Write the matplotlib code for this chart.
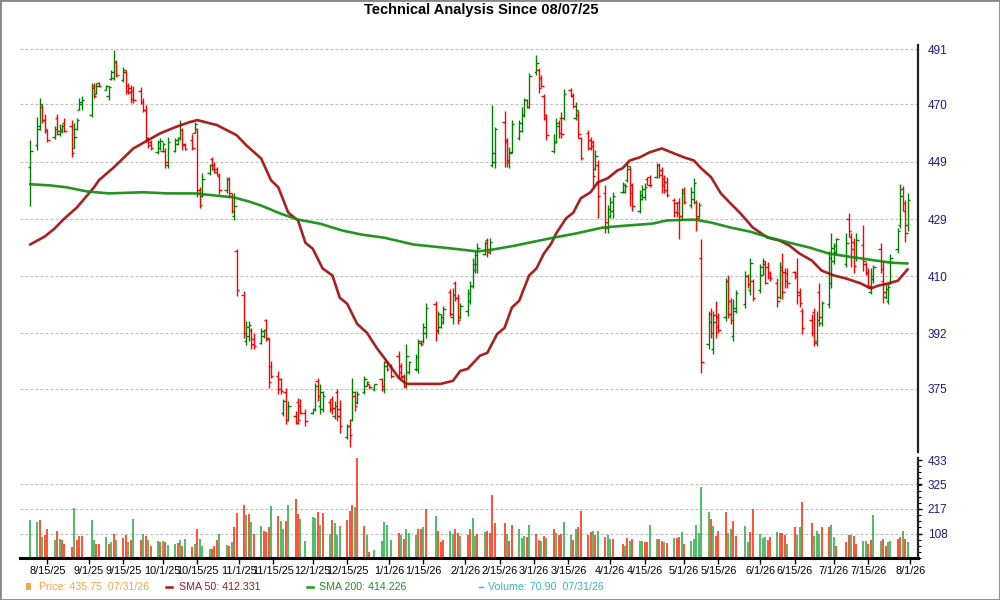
import numpy as np
import pandas as pd
import matplotlib
matplotlib.use("Agg")
import matplotlib.pyplot as plt
import matplotlib.dates as mdates
from matplotlib.ticker import FixedLocator, NullLocator, NullFormatter, MultipleLocator, FuncFormatter
from matplotlib.patches import Rectangle
from matplotlib.lines import Line2D

plt.rcParams['font.family'] = ['Liberation Sans', 'DejaVu Sans']

# trading days 08/08/25 .. 07/31/26
holidays = ['2025-09-01', '2025-11-27', '2025-12-25', '2026-01-01', '2026-01-19',
            '2026-02-16', '2026-04-03', '2026-05-25', '2026-06-19', '2026-07-03']
days = pd.bdate_range('2025-08-08', '2026-07-31', freq='C', holidays=holidays)

opens = [
    447, 455, 462, 469, 464, 460, 458, 465, 459, 460, 463, 462, 454, 461, 468, 470,
    466, 477, 474, 478, 475.5, 473, 479.5, 480, 486, 479, 482, 477, 476, 475, 475, 471, 468, 457.5, 456, 452.5, 454,
    453, 453, 448, 453, 455.5, 457.5, 460.5, 455.5, 457, 459.5, 461, 439, 437, 445, 450, 448, 446.5, 444, 439, 443, 437, 430, 418.5,
    404, 389.5, 391, 393, 390, 389, 391, 396, 390, 382, 379, 378, 368, 374, 366, 367, 371, 370, 368,
    368, 369, 377.5, 370, 369, 371, 372, 367, 374, 369, 361, 364, 366, 373, 371, 374, 376, 376.5, 375, 378, 375, 383,
    382, 385, 382, 379, 376, 380, 381, 381, 389.5, 389.5, 392, 401, 392.5, 394, 395.5, 405, 397, 408, 403, 397,
    399, 402, 407, 412, 414, 417.5, 422, 418, 448, 449, 463.5, 456, 449, 452.5, 457.5, 460, 466, 471.5, 469,
    482, 483, 480, 473, 465, 453, 456, 463, 465, 465, 475.5, 473, 465, 466, 457.5, 459.5, 457, 456, 446.5, 448, 438, 426,
    430, 432, 438.5, 438.5, 442.5, 446.5, 441, 432, 436, 436.5, 443, 443.5, 443.8, 448, 446, 443, 442, 435.5, 434.5, 435, 430,
    439, 434, 436, 435, 430, 416, 388.5, 398, 387, 397.5, 397, 397, 408.5, 402, 391, 399, 401, 410, 405.5, 408.5,
    405.5, 410.5, 414, 413, 411, 408, 403.5, 412, 411.5, 411, 411.5, 411, 405, 399, 396, 398.5, 389, 405, 395, 401, 408,
    415, 418, 414, 429, 423, 421.5, 416, 420.5, 414, 411.5, 405, 409, 419, 408.5, 403.5, 402, 408, 419, 427, 439.5, 432, 427,
]
highs = [
    457, 465.2, 472.2, 470, 466.4, 460.8, 461.9, 466.4, 462.6, 462.6, 465, 464.1, 463, 464.8, 472.2, 473,
    478, 478, 478, 478.4, 477.2, 477, 482.9, 490.6, 486.7, 484, 482.9, 478, 477.2, 477, 476.5, 472.2, 469.6, 458, 456.8, 456.8, 457.6,
    456.1, 453.8, 458, 457.6, 458, 464.1, 461.1, 455.7, 459, 463.3, 461.1, 440, 445, 448.4, 450.6, 448.8, 447, 445, 443.6, 443.6, 438.1, 438.1, 419,
    405.4, 395.8, 395.8, 393.6, 392, 393.6, 393.3, 396.4, 390.5, 383.4, 380.4, 378.3, 372, 375.3, 371.4, 368.5, 372.3, 372, 369,
    369.2, 376.8, 378.3, 376.5, 374.4, 372, 373, 371.4, 375, 371.7, 364.6, 366.1, 378.3, 374.4, 374.4, 379, 377.4, 376.5, 376.5, 378.3, 383.4, 383.4,
    382.5, 386.5, 382.8, 379.5, 388.7, 383.4, 385.6, 390.2, 389.6, 395.2, 401.5, 402.2, 399, 398.1, 400.6, 406, 406.4, 408.6, 404.4, 401.5,
    406, 408.6, 415.9, 418.5, 421.1, 421.8, 422.8, 422.8, 469.6, 461.5, 467.4, 457.6, 454.2, 464.1, 464.1, 469, 472.2, 471.9, 481.7,
    488.7, 483.7, 481, 473.7, 466.2, 459, 464.8, 464.1, 467, 475.7, 476.1, 474.3, 470.7, 467.8, 458, 460.4, 458, 456.8, 453.1, 449.5, 440.7, 434,
    436.5, 438.3, 441.8, 441.5, 448.5, 447.4, 441.5, 439, 440.7, 441.5, 443.6, 444.3, 448.5, 448.5, 447, 444.3, 443.6, 436.2, 434.8, 436.2, 439.7,
    440, 440, 443.2, 435.5, 434.8, 422.5, 399, 400, 399, 402.2, 398.4, 409.6, 410.3, 403.1, 402.8, 405.7, 411.9, 410.9, 415.9, 409.3,
    414.2, 415.9, 415.2, 414.6, 411.9, 409.6, 414.6, 417.8, 412.9, 412.6, 411.9, 415.9, 406.4, 400, 398.1, 400, 399, 408, 402.2, 418.5, 424.5,
    421.1, 422.8, 424.5, 431, 424.2, 422.8, 424.2, 427.2, 414.6, 412.6, 412.6, 413.6, 421.1, 415.2, 407.7, 407.7, 417.5, 426.2, 441.1, 440.4, 435.5, 438,
]
lows = [
    433.5, 453.1, 460.4, 463, 459.3, 456.1, 457.2, 458.7, 458.4, 459.3, 459.6, 450.6, 453.8, 460.4, 467.8, 468,
    465.2, 472.2, 473.7, 476.5, 475.3, 471.5, 479.1, 479.1, 480.2, 478.4, 473.7, 473.7, 470.4, 470.4, 470, 467.1, 456.1, 453.8, 453.1, 451.9, 453.1,
    452.4, 446.7, 446.7, 452.4, 455, 456.8, 453.1, 453.1, 453.1, 459.3, 436.5, 433, 436.5, 444.3, 446, 445, 444.3, 437.6, 438.1, 436.5, 431, 428.6, 403.8,
    390.5, 388.4, 389.6, 387.1, 387, 388.7, 390.5, 389.6, 375.3, 378.3, 373.5, 373.5, 367, 364.6, 365.5, 364.6, 364.6, 367.7, 364,
    367.7, 368.5, 371.4, 367.7, 368.2, 368.2, 367.7, 366.1, 365.5, 362, 360.3, 358, 365.5, 368.5, 370.5, 373.5, 375.9, 375, 374.4, 374.4, 373.8, 380.4,
    378.3, 378.3, 378, 375.3, 375.3, 379.5, 380.4, 379.8, 388.1, 389, 390.5, 389.6, 391.7, 393.6, 394.9, 397.4, 394.9, 402.2, 394.9, 396.4,
    397.4, 401.2, 406.4, 411.2, 411.2, 416.9, 416.2, 417.5, 447, 446.7, 447, 447, 446.7, 452, 456.8, 459.7, 465.2, 468.5, 468.5,
    481, 474.1, 476.5, 464.1, 456.8, 452, 455.7, 457.6, 457.6, 464.1, 472.6, 468.7, 464.1, 457.6, 449.5, 453.1, 453.1, 440, 446, 429.3, 424.2, 424.2,
    429.3, 429.3, 437.9, 437.9, 441.8, 433.4, 432, 431.3, 435.5, 435.5, 440.7, 440, 443.2, 443.2, 437.9, 437.9, 436.5, 429.9, 429.9, 422.5, 428.6,
    434.4, 433, 434.4, 425.2, 429.3, 379.8, 387.1, 390.5, 385.6, 390.5, 392.1, 395.8, 396.8, 394.9, 389.6, 398.4, 400, 406.4, 404.1, 402.2,
    404.8, 410.3, 407.4, 409.3, 408.6, 400.3, 402.8, 402.8, 406.4, 406.4, 409.3, 401.2, 400.3, 391.7, 391.1, 388.1, 388.1, 394.2, 394.2, 400, 406.4,
    414.2, 417.5, 413.2, 423.1, 413.2, 411.2, 415.2, 411.9, 410.6, 406.4, 404.4, 408, 411.2, 401.6, 402.8, 401.2, 407.7, 417.8, 426.2, 432, 421.5, 425.2,
]
closes = [
    453, 461, 470, 464, 461, 457, 461, 460, 461, 462, 460, 452, 458, 464, 471, 471.5,
    476, 473, 477, 477, 477, 476.5, 482, 486, 481, 483, 475, 474.5, 472, 471.5, 471, 468, 457, 455, 454, 456, 456.5,
    455.5, 449, 456, 457, 457.5, 462.5, 455, 453.5, 454, 462.5, 438, 434, 443, 448, 446.5, 445.5, 444.5, 439, 443, 438, 432, 433.5, 405.7,
    392, 394, 394.5, 388.5, 388, 392.5, 393, 390.5, 377, 379, 375, 374.5, 371.5, 366, 370, 365, 366, 368, 365.5,
    369, 376, 373, 374, 373, 369, 369.5, 370, 367, 364, 364, 361.5, 374, 370, 373.5, 378, 377, 375.5, 376.5, 376, 382, 381,
    379, 380, 378.5, 376, 385, 383, 384.5, 389, 388.5, 394, 400, 393, 398, 397, 399.5, 398, 404, 403, 396, 400.5,
    404.5, 407, 414, 417, 419.5, 421, 418, 421.5, 452, 461, 456.8, 449.5, 452, 462.5, 463, 466, 471.5, 469, 480.5,
    485.5, 476, 477, 466, 458.5, 456, 462, 459.5, 459, 474, 473.5, 469.5, 468, 459, 450.5, 454, 454.5, 444, 451, 437, 428, 432.5,
    435, 437, 441, 440.5, 447.5, 438, 433.5, 437.5, 439.5, 440, 441, 441, 448, 444.3, 441, 439, 437.5, 431.5, 431, 430, 438,
    435, 438.5, 441.5, 429.5, 434, 383, 395.5, 392, 395.5, 394, 393, 408.5, 398, 396, 400, 404.5, 410, 407.5, 414.5, 403,
    413, 415, 408, 410, 409.5, 402, 413, 405, 408.5, 408, 410, 404, 401.5, 393.5, 392, 389.5, 396, 397, 401.5, 416, 419.5,
    420, 422.5, 421, 425, 419, 413.5, 422, 415, 411, 407, 410, 413, 412.5, 405, 406, 406.5, 416, 425, 437, 434.5, 424.5, 435.75,
]

volumes = [
    168, 158, 168, 95, 100, 130, 78, 118, 85, 81, 63, 50, 220, 78, 99, 99,
    168, 81, 63, 63, 95, 63, 72, 108, 81, 90, 103, 72, 81, 171, 81, 108, 99, 81, 54, 76, 72,
    76, 72, 58, 63, 67, 81, 54, 85, 50, 63, 130, 85, 54, 40, 40, 54, 81, 108, 58, 54, 72, 135, 198,
    234, 189, 193, 158, 108, 140, 121, 117, 135, 230, 184, 162, 126, 162, 234, 261, 193, 171, 76,
    180, 175, 202, 144, 198, 108, 166, 153, 103, 140, 166, 207, 234, 225, 441, 140, 103, 27, 36, 76, 158, 144,
    81, 112, 103, 85, 126, 112, 103, 130, 126, 135, 216, 184, 121, 72, 81, 121, 108, 126, 112, 99,
    103, 126, 175, 99, 108, 117, 121, 112, 279, 153, 153, 108, 76, 148, 130, 90, 99, 95, 148,
    108, 81, 76, 99, 90, 130, 112, 103, 108, 158, 103, 81, 126, 135, 207, 103, 117, 121, 103, 121, 95, 103,
    85, 85, 63, 54, 90, 76, 85, 76, 76, 72, 72, 144, 85, 85, 76, 72, 67, 90, 90, 95, 117,
    63, 76, 85, 148, 112, 315, 202, 171, 140, 99, 121, 202, 112, 130, 162, 99, 140, 72, 117, 216,
    108, 90, 95, 81, 95, 117, 112, 112, 103, 63, 135, 103, 135, 247, 153, 99, 121, 108, 135, 135, 148,
    95, 54, 72, 103, 103, 99, 63, 76, 76, 63, 81, 189, 76, 85, 54, 72, 76, 85, 95, 121, 85, 70.9,
]
# g = up volume, r = down volume
vol_dir = ("ggrgrrgrgrrrgrrr" "ggrrgrgrgrrgrgrgrgrgr" "grggrgrgrgrgggrrrggrgrr"
           "rgrgrgrrrgrggrgrrgg" "ggrgrgrgggrrrgrrgrgggg" "grgrgggrrgrgrrrggrrg"
           "rrggrgrrrrrgrrgggrg" "rrgrgrgrrggrgrrrrgrgrg" "grrgrgrggrrggrrgrgrrg"
           "rggggggrgrrrggrrggrr" "gggrrgrrrgrggrrgggrrg" "grrrgrrggrrggrrggrrgrg")

sma50_dates = ['2025-08-08', '2025-08-14', '2025-08-18', '2025-08-22', '2025-08-27', '2025-09-03',
               '2025-09-05', '2025-09-11', '2025-09-19', '2025-09-25', '2025-09-30', '2025-10-06',
               '2025-10-12', '2025-10-15', '2025-10-23', '2025-10-31', '2025-11-04', '2025-11-10',
               '2025-11-14', '2025-11-17', '2025-11-21', '2025-11-25', '2025-11-28', '2025-12-01',
               '2025-12-05', '2025-12-09', '2025-12-12', '2025-12-15', '2025-12-19', '2025-12-23',
               '2025-12-27', '2025-12-31', '2026-01-05', '2026-01-08', '2026-01-15', '2026-01-22',
               '2026-01-27', '2026-01-30', '2026-02-02', '2026-02-07', '2026-02-10', '2026-02-14',
               '2026-02-17', '2026-02-20', '2026-02-23', '2026-02-27', '2026-03-02', '2026-03-05',
               '2026-03-08', '2026-03-10', '2026-03-14', '2026-03-17', '2026-03-20', '2026-03-24',
               '2026-03-27', '2026-03-31', '2026-04-04', '2026-04-06', '2026-04-09', '2026-04-13',
               '2026-04-17', '2026-04-22', '2026-04-27', '2026-05-01', '2026-05-05', '2026-05-08',
               '2026-05-12', '2026-05-16', '2026-05-20', '2026-05-24', '2026-05-29', '2026-06-04',
               '2026-06-09', '2026-06-13', '2026-06-17', '2026-06-22', '2026-06-26', '2026-07-01',
               '2026-07-06', '2026-07-12', '2026-07-16', '2026-07-19', '2026-07-23', '2026-07-27',
               '2026-07-31']
sma50_vals = [420.5, 423.2, 425.9, 429.3, 433.0, 440.0, 442.5, 447.0, 453.8, 456.8, 459.3, 461.5,
              463.4, 464.1, 462.3, 458.6, 454.9, 450.2, 442.5, 440.0, 431.3, 428.6, 421.1, 419.1,
              412.6, 410.3, 403.1, 401.2, 394.9, 392.1, 387.4, 383.4, 378.3, 376.5, 376.5, 376.5,
              377.4, 380.4, 381.0, 385.0, 385.9, 391.7, 393.6, 400.0, 402.2, 410.3, 412.6, 417.5,
              420.8, 424.2, 429.3, 431.3, 436.2, 438.3, 441.8, 443.2, 446.0, 446.7, 449.5, 450.6,
              452.4, 453.8, 452.0, 450.6, 449.5, 446.7, 443.6, 437.9, 434.4, 431.0, 426.2, 422.8,
              421.8, 420.1, 417.5, 415.2, 411.9, 410.3, 409.3, 407.7, 406.1, 407.0, 407.7, 408.6,
              412.331]

sma200_dates = ['2025-08-08', '2025-08-16', '2025-08-23', '2025-08-31', '2025-09-09', '2025-09-23',
                '2025-10-03', '2025-10-14', '2025-10-22', '2025-10-30', '2025-11-05', '2025-11-10',
                '2025-11-18', '2025-11-25', '2025-12-04', '2025-12-13', '2025-12-21', '2025-12-30',
                '2026-01-11', '2026-01-23', '2026-02-06', '2026-02-12', '2026-02-21', '2026-03-03',
                '2026-03-09', '2026-03-18', '2026-03-29', '2026-04-08', '2026-04-18', '2026-04-24',
                '2026-05-05', '2026-05-12', '2026-05-20', '2026-05-28', '2026-06-05', '2026-06-13',
                '2026-06-21', '2026-06-29', '2026-07-07', '2026-07-18', '2026-07-24', '2026-07-31']
sma200_vals = [441.1, 440.7, 440.0, 438.6, 437.9, 438.3, 437.9, 437.9, 437.2, 436.5, 435.1, 433.7,
               430.9, 428.9, 427.5, 425.2, 423.8, 422.8, 420.5, 419.5, 418.2, 418.8, 420.1, 421.8,
               422.8, 424.2, 426.2, 426.9, 427.5, 428.6, 428.9, 427.9, 426.2, 424.8, 422.8, 421.1,
               419.5, 417.5, 416.5, 415.2, 414.5, 414.226]

price_ticks = [375, 392, 410, 429, 449, 470, 491]
vol_ticks = [108, 217, 325, 433]

W, H = 1000, 600
NAVY = '#1a1a8c'


def box(l, t, r, b):
    return [l / W, 1 - b / H, (r - l) / W, (b - t) / H]


x = mdates.date2num(days)
o = np.array(opens)
h = np.array(highs)
l = np.array(lows)
c = np.array(closes)
bar_col = np.where(c >= o, '#008000', '#ff0000')

fig = plt.figure(figsize=(10, 6), dpi=100)
ax = fig.add_axes(box(20, 45, 918, 452))
axv = fig.add_axes(box(20, 458, 918, 558))

start = mdates.date2num(pd.Timestamp('2025-08-07'))
x0, x1 = start - 3.1, start + 362.2

# price panel
ax.vlines(x, l, h, colors=bar_col, lw=1.0, zorder=2)
ax.hlines(o, x - 1.0, x, colors=bar_col, lw=1.0, zorder=2)
ax.hlines(c, x, x + 1.0, colors=bar_col, lw=1.0, zorder=2)
ax.plot(mdates.date2num(pd.to_datetime(sma50_dates)), sma50_vals, color='#a00e0e', lw=1.9,
        alpha=0.92, solid_capstyle='round', zorder=3)
ax.plot(mdates.date2num(pd.to_datetime(sma200_dates)), sma200_vals, color='#138a13', lw=1.9,
        alpha=0.92, solid_capstyle='round', zorder=3)

ax.set_yscale('log')
ax.set_ylim(356.7, 492.6)
ax.set_xlim(x0, x1)
ax.yaxis.set_major_locator(FixedLocator(price_ticks))
ax.yaxis.set_major_formatter(FuncFormatter(lambda v, p: '%d' % round(v)))
ax.yaxis.set_minor_locator(NullLocator())
ax.yaxis.set_minor_formatter(NullFormatter())
ax.yaxis.tick_right()
ax.grid(axis='y', color='#bbbbbb', lw=0.8, linestyle=(0, (2.5, 2)))
ax.tick_params(axis='y', length=0, pad=7, labelsize=8.5, labelcolor=NAVY)
ax.tick_params(axis='x', which='both', bottom=False, labelbottom=False)
for s in ['top', 'left', 'bottom']:
    ax.spines[s].set_visible(False)
ax.spines['right'].set_linewidth(1.6)
ax.spines['right'].set_color('#222222')

# volume panel
vol_col = ['#1faa3c' if d == 'g' else '#ff2200' for d in vol_dir]
axv.vlines(x, 0, volumes, colors=vol_col, lw=1.1, zorder=2)
axv.set_xlim(x0, x1)
axv.set_ylim(0, 442)
for t in vol_ticks[:-1]:
    axv.axhline(t, color='#bbbbbb', lw=0.8, linestyle=(0, (2.5, 2)), zorder=1)
axv.yaxis.tick_right()
axv.yaxis.set_major_locator(FixedLocator(vol_ticks))
axv.yaxis.set_minor_locator(MultipleLocator(433 / 16))
axv.tick_params(axis='y', which='major', direction='out', length=3, width=1, pad=4,
                labelsize=8.5, labelcolor=NAVY)
axv.tick_params(axis='y', which='minor', direction='out', length=2, width=0.8)

tick_days = [d for d in pd.date_range('2025-08-01', '2026-08-31', freq='SMS')
             if x0 <= mdates.date2num(d) <= x1]
axv.xaxis.set_major_locator(FixedLocator(mdates.date2num(tick_days)))
axv.xaxis.set_minor_locator(NullLocator())


def date_label(v, pos):
    d = mdates.num2date(v)
    return '%d/%d/%s' % (d.month, d.day, d.strftime('%y'))


axv.xaxis.set_major_formatter(FuncFormatter(date_label))
axv.tick_params(axis='x', direction='out', length=4, width=1, pad=2, labelsize=7.8)
for s in ['top', 'left']:
    axv.spines[s].set_visible(False)
axv.spines['right'].set_linewidth(1.6)
axv.spines['right'].set_color('#222222')
axv.spines['bottom'].set_linewidth(2.2)

# title, legend row, frame
fig.text(0.481, 1 - 10 / H, 'Technical Analysis Since 08/07/25', ha='center', va='center',
         fontsize=10.5, fontweight='bold')

ly = 1 - 587 / H
fig.add_artist(Rectangle((26 / W, 1 - 590 / H), 5 / W, 7 / H, transform=fig.transFigure,
                         facecolor='#f5a54a', edgecolor='none'))
fig.text(39 / W, ly, 'Price: 435.75  07/31/26', color='#f5a54a', fontsize=7.7, va='center')
fig.add_artist(Line2D([166 / W, 172 / W], [ly, ly], transform=fig.transFigure, color='#c0101a', lw=1.8))
fig.text(179 / W, ly, 'SMA 50: 412.331', color='#9b1b1b', fontsize=7.7, va='center')
fig.add_artist(Line2D([307 / W, 313 / W], [ly, ly], transform=fig.transFigure, color='#1f9a1f', lw=1.8))
fig.text(319 / W, ly, 'SMA 200: 414.226', color='#2a8a2a', fontsize=7.7, va='center')
fig.add_artist(Line2D([479 / W, 483 / W], [ly, ly], transform=fig.transFigure, color='#3aafcf', lw=1.0))
fig.text(488 / W, ly, 'Volume: 70.90  07/31/26', color='#3aafcf', fontsize=7.7, va='center')

fig.add_artist(Rectangle((0, 0), 1, 1, transform=fig.transFigure, fill=False,
                         edgecolor='#888888', lw=2))

fig.savefig('out.png', dpi=100)
